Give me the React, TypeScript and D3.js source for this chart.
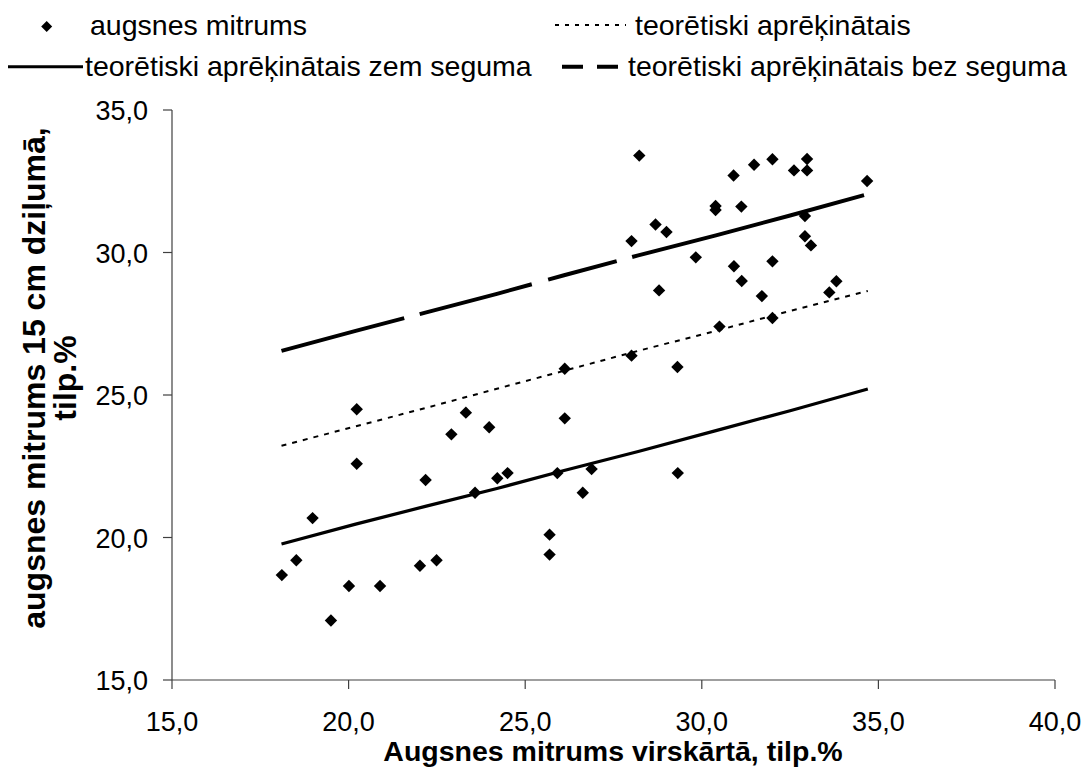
import React from "react";
import * as d3 from "d3";

// Measured soil moisture: surface layer (x) vs. 15 cm depth (y), vol.%
const measuredX = [
  18.11, 18.52, 18.98, 19.5, 20.01, 20.23, 20.23, 20.89, 22.02, 22.18, 22.49, 22.91, 23.32, 23.58,
  23.98, 24.21, 24.5, 25.69, 25.69, 25.91, 26.12, 26.63, 26.88, 26.12, 28.23, 28.01, 28.69, 29.0,
  29.83, 28.79, 28.01, 29.31, 30.5, 30.39, 30.39, 31.12, 30.9, 31.48, 32.0, 32.61, 32.98, 32.98,
  32.92, 32.92, 33.09, 30.91, 31.13, 32.0, 31.7, 32.0, 33.81, 33.61, 34.68, 29.32,
];
const measuredY = [
  18.68, 19.2, 20.68, 17.09, 18.3, 24.5, 22.59, 18.3, 19.01, 22.02, 19.2, 23.62, 24.38, 21.57,
  23.87, 22.08, 22.26, 20.1, 19.4, 22.26, 24.18, 21.57, 22.4, 25.92, 33.4, 30.4, 30.98, 30.72,
  29.83, 28.67, 26.38, 25.98, 27.4, 31.63, 31.49, 31.61, 32.7, 33.08, 33.27, 32.88, 33.28, 32.88,
  31.28, 30.57, 30.25, 29.52, 29.0, 29.69, 28.47, 27.7, 28.99, 28.6, 32.51, 22.26,
];

// Calculated curves
const calcX = [18.1, 20.2, 22.2, 24.2, 26.1, 28.2, 30.4, 32.5, 34.7];
const calcAll = [23.22, 23.9, 24.55, 25.22, 25.85, 26.55, 27.25, 27.95, 28.65];
const calcCovered = [19.77, 20.47, 21.1, 21.72, 22.35, 23.02, 23.75, 24.45, 25.21];
const calcBare = [26.55, 27.25, 27.9, 28.55, 29.2, 29.9, 30.6, 31.3, 32.05];

const xTicks = [15, 20, 25, 30, 35, 40];
const yTicks = [15, 20, 25, 30, 35];

const legendLabels = [
  "augsnes mitrums",
  "teorētiski aprēķinātais",
  "teorētiski aprēķinātais zem seguma",
  "teorētiski aprēķinātais bez seguma",
];
const xTitle = "Augsnes mitrums virskārtā, tilp.%";
const yTitleLines = ["augsnes mitrums 15 cm dziļumā,", "tilp.%"];

const W = 1082;
const H = 769;
const FONT = "'Liberation Sans', Arial, Helvetica, sans-serif";

export default function App() {
  const x = d3.scaleLinear().domain([15, 40]).range([172, 1055]);
  const y = d3.scaleLinear().domain([15, 35]).range([680, 110]);
  const fmt = (v: number) => v.toFixed(1).replace(".", ",");

  const line = d3
    .line<number>()
    .x((_, i) => x(calcX[i]))
    .y((d) => y(d));

  const diamond = (cx: number, cy: number, r: number) =>
    `M${cx},${cy - r}L${cx + r},${cy}L${cx},${cy + r}L${cx - r},${cy}Z`;

  return (
    <svg
      width={W}
      height={H}
      style={{ position: "absolute", left: 0, top: 0, background: "#fff" }}
      fontFamily={FONT}
    >
      <rect width={W} height={H} fill="#fff" />

      {/* legend */}
      <g fontSize={28.5} fill="#000">
        <path d={diamond(46.7, 26.5, 5.5)} fill="#000" />
        <text x={90} y={35}>{legendLabels[0]}</text>

        <line x1={555} x2={626} y1={25} y2={25} stroke="#000" strokeWidth={2} strokeDasharray="4,6" />
        <text x={635} y={35}>{legendLabels[1]}</text>

        <line x1={8} x2={83} y1={66.7} y2={66.7} stroke="#000" strokeWidth={3} />
        <text x={85} y={76}>{legendLabels[2]}</text>

        <line x1={562} x2={619} y1={66.7} y2={66.7} stroke="#000" strokeWidth={4} strokeDasharray="21,14" />
        <text x={628} y={76}>{legendLabels[3]}</text>
      </g>

      {/* axes */}
      <g stroke="#404040" strokeWidth={1.2} fill="none">
        <line x1={x(15)} x2={x(40)} y1={y(15)} y2={y(15)} />
        <line x1={x(15)} x2={x(15)} y1={y(15)} y2={y(35)} />
        {xTicks.map((t) => (
          <line key={"xt" + t} x1={x(t)} x2={x(t)} y1={y(15)} y2={y(15) + 9} />
        ))}
        {yTicks.map((t) => (
          <line key={"yt" + t} x1={x(15) - 9} x2={x(15)} y1={y(t)} y2={y(t)} />
        ))}
      </g>

      <g fontSize={27} fill="#000">
        {xTicks.map((t) => (
          <text key={"xl" + t} x={x(t)} y={731} textAnchor="middle">
            {fmt(t)}
          </text>
        ))}
        {yTicks.map((t) => (
          <text key={"yl" + t} x={148} y={y(t) + 10} textAnchor="end">
            {fmt(t)}
          </text>
        ))}
      </g>

      {/* axis titles */}
      <text x={613} y={761} textAnchor="middle" fontSize={28.5} fontWeight="bold">
        {xTitle}
      </text>
      <g transform="translate(0,378) rotate(-90)" fontSize={32} fontWeight="bold">
        <text x={0} y={45} textAnchor="middle">{yTitleLines[0]}</text>
        <text x={0} y={76} textAnchor="middle">{yTitleLines[1]}</text>
      </g>

      {/* calculated curves */}
      <path d={line(calcAll) || ""} fill="none" stroke="#000" strokeWidth={2} strokeDasharray="5,6" />
      <path d={line(calcCovered) || ""} fill="none" stroke="#000" strokeWidth={3.2} />
      <path
        d={line(calcBare) || ""}
        fill="none"
        stroke="#000"
        strokeWidth={4}
        strokeDasharray="127,16,116,17,71,16,240"
      />

      {/* measured points */}
      {measuredX.map((mx, i) => (
        <path key={"p" + i} d={diamond(x(mx), y(measuredY[i]), 6.2)} fill="#000" />
      ))}
    </svg>
  );
}
